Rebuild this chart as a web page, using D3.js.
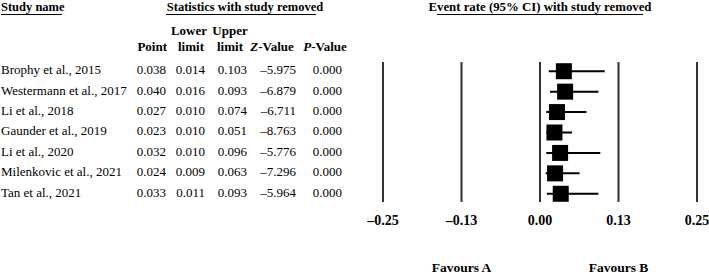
<!DOCTYPE html>
<html><head><meta charset="utf-8">
<script src="https://cdn.jsdelivr.net/npm/d3@7"></script>
<style>body{margin:0;background:#fff}svg{display:block}text{font-family:"Liberation Serif","Times New Roman",serif;fill:#000}</style>
</head><body>
<script>
const studies = ["Brophy et al., 2015","Westermann et al., 2017","Li et al., 2018","Gaunder et al., 2019","Li et al., 2020","Milenkovic et al., 2021","Tan et al., 2021"];
const points = [0.038,0.040,0.027,0.023,0.032,0.024,0.033];
const lowers = [0.014,0.016,0.010,0.010,0.010,0.009,0.011];
const uppers = [0.103,0.093,0.074,0.051,0.096,0.063,0.093];
const zValues = [-5.975,-6.879,-6.711,-8.763,-5.776,-7.296,-5.964];
const pValues = [0.000,0.000,0.000,0.000,0.000,0.000,0.000];
const ticks = [-0.25,-0.125,0,0.125,0.25];
const tickLabels = ["\u20130.25","\u20130.13","0.00","0.13","0.25"];

const W=709,H=274;
const svg=d3.select("body").append("svg").attr("width",W).attr("height",H);
const x=d3.scaleLinear().domain([-0.25,0.25]).range([383,697]);
const y=d3.scaleBand().domain(studies).range([61,204]).paddingInner(0).paddingOuter(0);
const yc=s=>y(s)+y.bandwidth()/2;
const fmt=d3.format(".3f");

function txt(t,xx,yy,anchor,bold,size){
  return svg.append("text").attr("x",xx).attr("y",yy).attr("text-anchor",anchor||"start")
    .attr("font-size",size||13).attr("font-weight",bold?"bold":"normal").attr("dominant-baseline","middle").text(t);
}
// headers
txt("Study name",1,8,"start",true,12.5);
svg.append("line").attr("x1",1).attr("x2",62).attr("y1",14.5).attr("y2",14.5).attr("stroke","#000").attr("stroke-width",1);
txt("Statistics with study removed",245,8,"middle",true,12.5);
svg.append("line").attr("x1",166).attr("x2",316).attr("y1",14.5).attr("y2",14.5).attr("stroke","#000").attr("stroke-width",1);
txt("Event rate (95% CI) with study removed",540,8,"middle",true,12.8);
svg.append("line").attr("x1",437).attr("x2",643).attr("y1",14.5).attr("y2",14.5).attr("stroke","#000").attr("stroke-width",1);
txt("Lower",189,32,"middle",true,13);
txt("Upper",230,32,"middle",true,13);
txt("Point",167,48,"end",true,13);
txt("limit",204,48,"end",true,13);
txt("limit",243,48,"end",true,13);
const zt=txt("",272,48,"middle",true,13);
zt.append("tspan").attr("font-style","italic").text("Z");
zt.append("tspan").text("-Value");
const pt=txt("",325,48,"middle",true,13);
pt.append("tspan").attr("font-style","italic").text("P");
pt.append("tspan").text("-Value");

// table rows
const cols=[{arr:points,x:166},{arr:lowers,x:205},{arr:uppers,x:247},{arr:zValues,x:296},{arr:pValues,x:342}];
studies.forEach((s,i)=>{
  txt(s,1,yc(s),"start",false);
  cols.forEach(c=>{
    const v=c.arr[i];
    txt(v<0?"\u2013"+fmt(-v):fmt(v),c.x,yc(s),"end",false);
  });
});

// vertical grid lines
svg.selectAll(".vl").data(ticks).enter().append("line")
  .attr("x1",d=>x(d)).attr("x2",d=>x(d)).attr("y1",62).attr("y2",202)
  .attr("stroke","#333").attr("stroke-width",2);
svg.selectAll(".tl").data(ticks).enter().append("text")
  .attr("x",d=>x(d)).attr("y",222).attr("text-anchor","middle").attr("dominant-baseline","middle")
  .attr("font-size",14).attr("font-weight","bold").text((d,i)=>tickLabels[i]);

// CIs and squares
const sq=16;
studies.forEach((s,i)=>{
  svg.append("line").attr("x1",x(lowers[i])).attr("x2",x(uppers[i])).attr("y1",yc(s)).attr("y2",yc(s))
    .attr("stroke","#000").attr("stroke-width",2);
  svg.append("rect").attr("x",x(points[i])-sq/2).attr("y",yc(s)-sq/2).attr("width",sq).attr("height",sq).attr("fill","#000");
});

txt("Favours A",x(-0.125),269,"middle",true,13.5);
txt("Favours B",x(0.125),269,"middle",true,13.5);
</script>
</body></html>
